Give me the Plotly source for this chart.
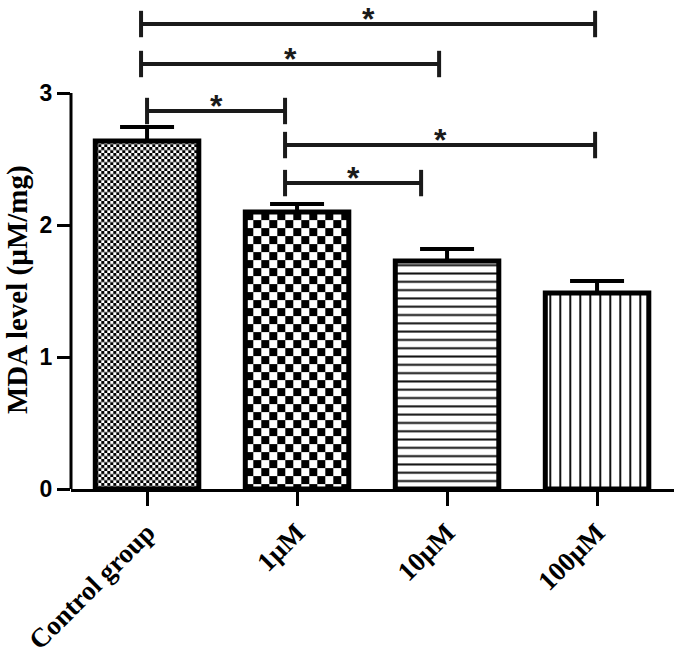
import base64
import plotly.graph_objects as go

# ---------------- data ----------------
groups = ["Control group", "1\u00b5M", "10\u00b5M", "100\u00b5M"]
mda_mean = [2.636, 2.098, 1.727, 1.485]
mda_sem = [0.106, 0.061, 0.091, 0.091]
y_ticks = [0, 1, 2, 3]
y_title = "MDA level (\u00b5M/mg)"

# significance brackets: (from x, to x, height, label)
sig_x0 = [-0.04, -0.04, 0.0, 0.92, 0.92]
sig_x1 = [2.987, 1.947, 0.92, 2.987, 1.827]
sig_y = [3.523, 3.22, 2.864, 2.606, 2.318]
sig_label = ["*", "*", "*", "*", "*"]

# fill textures per bar
bar_texture = ["checker", "checker", "hlines", "vlines"]
texture_size = [3, 8, 8.3, 10]

# ---------------- layout geometry ----------------
W, H = 674, 658
ML, MR, MT, MB = 71, 0, 0, 169
XR = [-0.507, 3.513]
YR = [0, 3.705]
BAR_W = 0.69
px_x = (W - ML - MR) / (XR[1] - XR[0])
px_y = (H - MT - MB) / (YR[1] - YR[0])

SERIF = "Liberation Serif, Times New Roman, serif"
SANS = "Liberation Sans, Arial, sans-serif"


def texture_uri(w, h, kind, s):
    if kind == "checker":
        pat = (f"<pattern id='p' width='{2*s}' height='{2*s}' patternUnits='userSpaceOnUse'>"
               f"<rect width='{2*s}' height='{2*s}' fill='white'/>"
               f"<rect width='{s}' height='{s}' fill='black'/>"
               f"<rect x='{s}' y='{s}' width='{s}' height='{s}' fill='black'/></pattern>")
    elif kind == "hlines":
        pat = (f"<pattern id='p' width='{s}' height='{s}' patternUnits='userSpaceOnUse'>"
               f"<rect width='{s}' height='{s}' fill='white'/>"
               f"<rect y='{s/2 - 1}' width='{s}' height='2' fill='#111'/></pattern>")
    else:
        pat = (f"<pattern id='p' width='{s}' height='{s}' patternUnits='userSpaceOnUse'>"
               f"<rect width='{s}' height='{s}' fill='white'/>"
               f"<rect x='{s/2 - 1}' width='2' height='{s}' fill='#111'/></pattern>")
    svg = (
        f"<svg xmlns='http://www.w3.org/2000/svg' width='{w:.1f}' height='{h:.1f}' "
        f"viewBox='0 0 {w:.1f} {h:.1f}' preserveAspectRatio='none'>"
        f"<defs>{pat}</defs><rect width='100%' height='100%' fill='url(#p)'/></svg>"
    )
    return "data:image/svg+xml;base64," + base64.b64encode(svg.encode()).decode()


xs = list(range(len(groups)))

fig = go.Figure()
fig.add_trace(go.Bar(
    x=xs, y=mda_mean, width=BAR_W,
    marker=dict(color="rgba(0,0,0,0)", line=dict(color="black", width=5)),
    error_y=dict(type="data", symmetric=False, array=mda_sem,
                 arrayminus=[0] * len(mda_sem), color="black",
                 thickness=4, width=27),
    showlegend=False,
))

images = []
for i, (kind, s) in enumerate(zip(bar_texture, texture_size)):
    v = mda_mean[i]
    images.append(dict(
        source=texture_uri(BAR_W * px_x, v * px_y, kind, s),
        xref="x", yref="y", x=xs[i] - BAR_W / 2, y=v,
        sizex=BAR_W, sizey=v, xanchor="left", yanchor="top",
        sizing="stretch", layer="below",
    ))

shapes = []
# y axis line from 0 to 3 only
shapes.append(dict(type="line", xref="paper", yref="y", x0=0, x1=0,
                   y0=0, y1=y_ticks[-1], line=dict(color="black", width=3)))
annotations = []
for x0, x1, yb, lab in zip(sig_x0, sig_x1, sig_y, sig_label):
    shapes.append(dict(type="line", xref="x", yref="y", x0=x0, x1=x1, y0=yb, y1=yb,
                       line=dict(color="#1a1a1a", width=4)))
    for xe in (x0, x1):
        shapes.append(dict(type="line", xref="x", yref="y", x0=xe, x1=xe,
                           y0=yb - 0.1, y1=yb + 0.1,
                           line=dict(color="#1a1a1a", width=4)))
    annotations.append(dict(text=lab, xref="x", yref="y", x=(x0 + x1) / 2, y=yb,
                            yanchor="middle", yshift=5, showarrow=False,
                            font=dict(family=SANS, size=32, color="#1a1a1a",
                                      weight="bold")))

annotations.append(dict(text=y_title, xref="paper", yref="paper",
                        x=(17 - ML) / (W - ML - MR), y=(489 - 290) / (H - MT - MB),
                        xanchor="center", yanchor="middle", textangle=-90,
                        showarrow=False,
                        font=dict(family=SERIF, size=29, color="black", weight="bold")))

fig.update_layout(
    width=W, height=H,
    margin=dict(l=ML, r=MR, t=MT, b=MB, autoexpand=False),
    paper_bgcolor="white", plot_bgcolor="white",
    images=images, shapes=shapes, annotations=annotations,
    xaxis=dict(range=XR, tickvals=xs, ticktext=groups, tickangle=-45,
               showline=True, linecolor="black", linewidth=3,
               ticks="outside", ticklen=14, tickwidth=3, tickcolor="black",
               showgrid=False, zeroline=False, automargin=False,
               tickfont=dict(family=SERIF, size=27, color="black", weight="bold")),
    yaxis=dict(range=YR, tickvals=y_ticks, showline=False,
               ticks="outside", ticklen=13, tickwidth=3, tickcolor="black",
               showgrid=False, zeroline=False, automargin=False,
               tickfont=dict(family=SANS, size=23, color="black", weight="bold")),
)

fig.write_html("out.html", config={"displayModeBar": False},
               post_script="document.body.style.margin='0px';")
